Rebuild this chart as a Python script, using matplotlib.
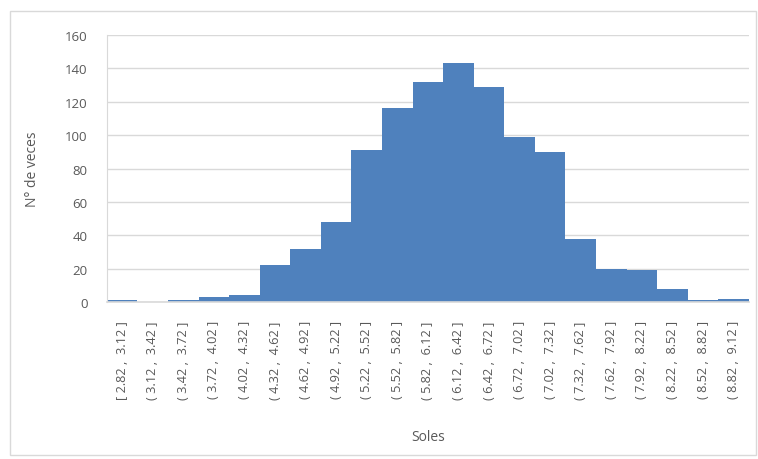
import matplotlib.pyplot as plt
from matplotlib.patches import Rectangle

# bin edges and counts
edges = [2.82, 3.12, 3.42, 3.72, 4.02, 4.32, 4.62, 4.92, 5.22, 5.52, 5.82,
         6.12, 6.42, 6.72, 7.02, 7.32, 7.62, 7.92, 8.22, 8.52, 8.82, 9.12]
counts = [1, 0, 1, 3, 4, 22, 32, 48, 91, 116, 132,
          143, 129, 99, 90, 38, 20, 19, 8, 1, 2]

labels = []
for i in range(len(counts)):
    left = "[" if i == 0 else "("
    labels.append(f"{left} {edges[i]:.2f} ,  {edges[i + 1]:.2f} ]")

plt.rcParams['font.family'] = ['Open Sans', 'DejaVu Sans']

fig = plt.figure(figsize=(7.58, 4.60), dpi=100)
ax = fig.add_axes([0.141, 0.341, 0.847, 0.581])

x = list(range(len(counts)))
ax.bar(x, counts, width=1.0, color='#4F81BD', edgecolor='none', zorder=2)

ax.set_xlim(-0.5, len(counts) - 0.5)
ax.set_ylim(0, 160)
ax.set_yticks(range(0, 161, 20))
ax.set_xticks(x)
ax.set_xticklabels(labels, rotation=90, fontsize=9.2, color='#595959')
ax.tick_params(axis='y', labelsize=9.5, labelcolor='#595959', length=0, pad=14)
ax.tick_params(axis='x', length=0, pad=13)

ax.grid(axis='y', color='#D9D9D9', linewidth=1, zorder=0)
ax.set_axisbelow(True)
for s in ['top', 'right']:
    ax.spines[s].set_visible(False)
ax.spines['left'].set_color('#D9D9D9')
ax.spines['bottom'].set_color('#D9D9D9')
ax.spines['bottom'].set_linewidth(1.2)

ax.set_ylabel('N° de veces', fontsize=10, color='#595959', labelpad=18)
fig.text(0.565, 0.048, 'Soles', fontsize=10, color='#595959', ha='center', va='center')

# chart area border
fig.patches.append(Rectangle((0.013, 0.009), 0.984, 0.965, transform=fig.transFigure,
                             fill=False, edgecolor='#D9D9D9', linewidth=1))

fig.savefig('out.png', dpi=100)
